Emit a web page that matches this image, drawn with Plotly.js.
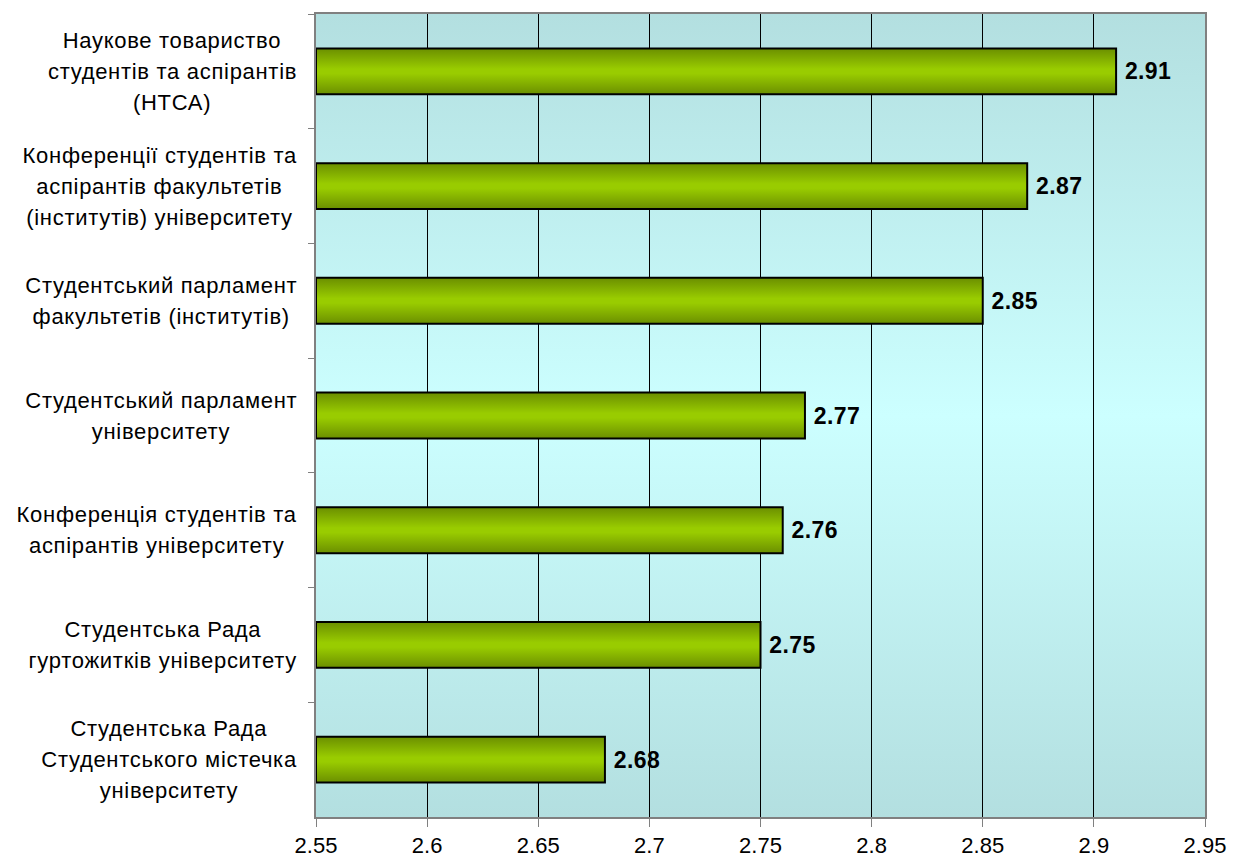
<!DOCTYPE html>
<html>
<head>
<meta charset="utf-8">
<script src="https://cdn.plot.ly/plotly-3.0.1.min.js"></script>
<style>
  html, body { margin: 0; padding: 0; background: #ffffff; }
  #chart { width: 1233px; height: 863px; }
</style>
</head>
<body>
<div id="chart"></div>
<script>
// ---- data ----
const categories = [
  ["Наукове товариство", "студентів та аспірантів", "(НТСА)"],
  ["Конференції студентів та", "аспірантів факультетів", "(інститутів) університету"],
  ["Студентський парламент", "факультетів (інститутів)"],
  ["Студентський парламент", "університету"],
  ["Конференція студентів та", "аспірантів університету"],
  ["Студентська Рада", "гуртожитків університету"],
  ["Студентська Рада", "Студентського містечка", "університету"]
];
const values = [2.91, 2.87, 2.85, 2.77, 2.76, 2.75, 2.68];
const xTicks = [2.55, 2.6, 2.65, 2.7, 2.75, 2.8, 2.85, 2.9, 2.95];
const xTickLabels = ["2.55", "2.6", "2.65", "2.7", "2.75", "2.8", "2.85", "2.9", "2.95"];
const axisStart = 2.55;

// ---- build ----
const catKeys = categories.map(c => c.join(" "));
const FONT = '"Liberation Sans", Arial, sans-serif';
const LABEL_SIZE = 22;
const LABEL_LS = 0.7;
const LINE_H = 31;

const canvas = document.createElement('canvas');
const ctx = canvas.getContext('2d');
ctx.font = LABEL_SIZE + 'px "Liberation Sans", Arial, sans-serif';
function textW(s) { return ctx.measureText(s).width + LABEL_LS * s.length; }

const annotations = [];
categories.forEach((lines, ci) => {
  const w = Math.max(...lines.map(textW));
  const n = lines.length;
  lines.forEach((line, li) => {
    annotations.push({
      xref: 'paper', yref: 'y', x: 0, y: catKeys[ci],
      xanchor: 'center', yanchor: 'middle',
      xshift: -(19 + w / 2),
      yshift: -(li - (n - 1) / 2) * LINE_H,
      text: line, showarrow: false,
      font: { family: FONT, size: LABEL_SIZE, color: '#000000' }
    });
  });
});

const trace = {
  type: 'bar', orientation: 'h',
  x: values.map(v => v - axisStart), y: catKeys,
  base: axisStart,
  text: values.map(v => '\u00a0' + v.toFixed(2)),
  textposition: 'outside',
  textfont: { family: FONT, size: 23, color: '#000000', weight: 'bold' },
  cliponaxis: false,
  marker: { color: '#8fc000', line: { color: '#000000', width: 2 } },
  hoverinfo: 'none'
};

const layout = {
  width: 1233, height: 863,
  margin: { l: 316, r: 28, t: 14, b: 46 },
  paper_bgcolor: '#ffffff',
  plot_bgcolor: '#c4eeef',
  showlegend: false,
  bargap: 0.6,
  font: { family: FONT, color: '#000000' },
  xaxis: {
    range: [2.55, 2.95],
    tickvals: xTicks, ticktext: xTickLabels,
    showgrid: true, gridcolor: '#000000', gridwidth: 1,
    zeroline: false,
    showline: true, linecolor: '#808080', linewidth: 2, mirror: true,
    ticks: 'outside', ticklen: 8, tickcolor: '#808080', tickwidth: 1,
    tickfont: { family: FONT, size: 22, color: '#000000' },
    fixedrange: true
  },
  yaxis: {
    type: 'category',
    categoryorder: 'array', categoryarray: catKeys,
    autorange: 'reversed',
    showticklabels: false,
    ticks: 'outside', tickson: 'boundaries', ticklen: 6, tickcolor: '#808080', tickwidth: 1,
    showgrid: false, zeroline: false,
    showline: true, linecolor: '#808080', linewidth: 2, mirror: true,
    fixedrange: true
  },
  annotations: annotations
};

Plotly.newPlot('chart', [trace], layout, { displayModeBar: false, staticPlot: true }).then(gd => {
  const svgNS = 'http://www.w3.org/2000/svg';
  const svg = gd.querySelector('.main-svg');
  const defs = document.createElementNS(svgNS, 'defs');
  function grad(id, stops) {
    const g = document.createElementNS(svgNS, 'linearGradient');
    g.setAttribute('id', id);
    g.setAttribute('x1', '0'); g.setAttribute('y1', '0');
    g.setAttribute('x2', '0'); g.setAttribute('y2', '1');
    stops.forEach(([o, c]) => {
      const s = document.createElementNS(svgNS, 'stop');
      s.setAttribute('offset', o); s.setAttribute('stop-color', c);
      g.appendChild(s);
    });
    defs.appendChild(g);
  }
  grad('bgGrad', [['0', '#b3dfe0'], ['0.5', '#ccffff'], ['1', '#b3dfe0']]);
  grad('barGrad', [['0', '#6b8f00'], ['0.45', '#99cc00'], ['0.55', '#99cc00'], ['1', '#6b8f00']]);
  svg.insertBefore(defs, svg.firstChild);
  const bg = gd.querySelector('.bglayer .bg');
  if (bg) bg.style.fill = 'url(#bgGrad)';
  gd.querySelectorAll('.trace.bars .point path').forEach(p => { p.style.fill = 'url(#barGrad)'; });
  gd.querySelectorAll('text.annotation-text').forEach(t => { t.style.letterSpacing = LABEL_LS + 'px'; });
  gd.querySelectorAll('.trace.bars text').forEach(t => { t.style.letterSpacing = '0.4px'; });
});
</script>
</body>
</html>
